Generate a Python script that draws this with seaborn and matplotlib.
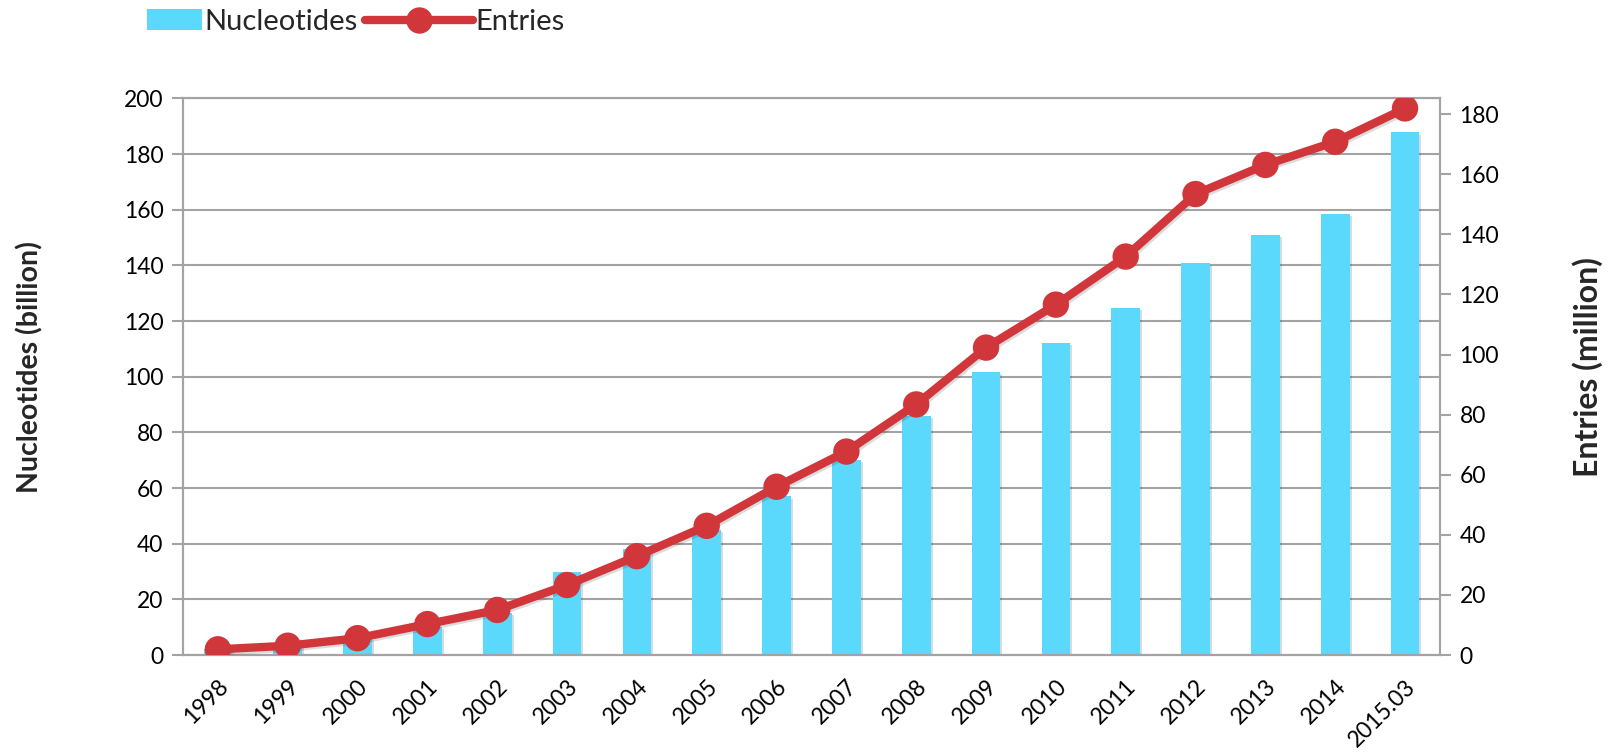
import numpy as np
import pandas as pd
import matplotlib
matplotlib.use("Agg")
import matplotlib.pyplot as plt
import matplotlib.patheffects as pe
from matplotlib.lines import Line2D
from matplotlib.patches import Patch, Rectangle
from matplotlib.legend_handler import HandlerPatch
import seaborn as sns

# Release labels
years = ["1998", "1999", "2000", "2001", "2002", "2003", "2004", "2005", "2006",
         "2007", "2008", "2009", "2010", "2011", "2012", "2013", "2014", "2015.03"]
# Nucleotides, billions (left axis)
nucleotides = [2, 3.5, 6, 10, 15, 30, 38, 45, 57, 70, 86, 101.7, 112.3, 124.8,
               141, 150.8, 158.5, 187.8]
# Entries, millions (right axis)
entries = [1.9, 3.1, 5.6, 10.3, 15.0, 23.3, 32.9, 43.0, 56.0, 67.7, 83.4, 102.3,
           116.6, 132.6, 153.4, 163.1, 170.8, 181.9]

bar_color = "#5AD9FD"
line_color = "#D1363A"
grid_color = "#A3A3A3"

sns.set_theme(style="white")
plt.rcParams["font.family"] = ["Lato", "DejaVu Sans"]

df = pd.DataFrame({"year": years, "nucleotides": nucleotides, "entries": entries})

fig = plt.figure(figsize=(16.15, 7.53), dpi=100)
ax = fig.add_axes([0.1133, 0.1301, 0.7783, 0.7391])

sns.barplot(data=df, x="year", y="nucleotides", ax=ax, color=bar_color,
            width=0.41, saturation=1, linewidth=0, zorder=2)
for p in ax.patches:
    p.set_path_effects([pe.SimplePatchShadow(offset=(1.5, -1.5), alpha=0.18), pe.Normal()])

ax.set_ylim(0, 200)
ax.set_yticks(np.arange(0, 201, 20))
ax.yaxis.grid(True, color=grid_color, linewidth=1.5)
ax.set_axisbelow(True)
ax.set_xlim(-0.5, len(years) - 0.5)

ax2 = ax.twinx()
sns.lineplot(x=np.arange(len(years)), y=df["entries"], ax=ax2, color=line_color,
             linewidth=6, marker="o", markersize=19, markeredgewidth=0, zorder=5,
             path_effects=[pe.SimpleLineShadow(offset=(1.2, -1.5), alpha=0.15), pe.Normal()])
ax2.set_ylim(0, 185.2)
ax2.set_yticks(np.arange(0, 181, 20))
ax2.set_xlim(-0.5, len(years) - 0.5)

for a in (ax, ax2):
    for s in a.spines.values():
        s.set_color(grid_color)
        s.set_linewidth(1.5)
    a.set_xlabel("")
    a.set_ylabel("")

ax.tick_params(axis="y", which="both", left=True, length=8, width=1.5,
               color=grid_color, labelsize=16.5, labelcolor="black", pad=6)
ax2.tick_params(axis="y", which="both", right=True, length=8, width=1.5,
                color=grid_color, labelsize=16.5, labelcolor="black", pad=6)
ax.tick_params(axis="x", length=0, labelsize=16.5, labelcolor="black", pad=15)
ax.set_xticks(np.arange(len(years)))
ax.set_xticklabels(years, rotation=45, ha="right", rotation_mode="anchor")
ax2.tick_params(axis="x", bottom=False, labelbottom=False)

fig.text(0.0186, 0.5126, "Nucleotides (billion)", rotation=90, va="center", ha="center",
         fontsize=20.5, fontweight="bold")
fig.text(0.9833, 0.5126, "Entries (million)", rotation=90, va="center", ha="center",
         fontsize=23, fontweight="bold")


def short_box(legend, orig_handle, xdescent, ydescent, width, height, fontsize):
    w = width * 0.51
    return Rectangle((width - w - xdescent, -ydescent), w, height)


handles = [Patch(facecolor=bar_color, edgecolor="none"),
           Line2D([0], [0], color=line_color, linewidth=6, marker="o",
                  markersize=19, markeredgewidth=0)]
fig.legend(handles, ["Nucleotides", "Entries"], loc="center left",
           bbox_to_anchor=(0.0582, 0.971), ncol=2, frameon=False, fontsize=21,
           borderpad=0, borderaxespad=0, handlelength=3.7, handleheight=0.7,
           handletextpad=0.07, columnspacing=0.28,
           handler_map={Patch: HandlerPatch(patch_func=short_box)})

fig.savefig("out.png", dpi=100)
